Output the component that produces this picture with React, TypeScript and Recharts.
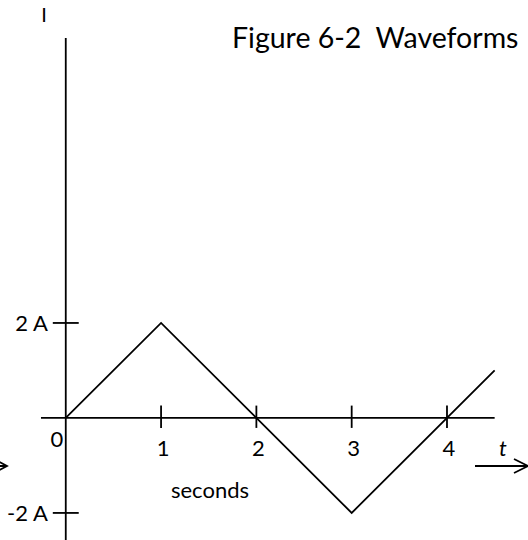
import React from 'react';
import { LineChart, Line, XAxis, YAxis, ReferenceLine } from 'recharts';

// waveform corners (seconds, amps)
const times = [0, 1, 3, 4.5];
const current = [0, 2, -2, 1];

const timeTicks = [1, 2, 3, 4];
const currentTicks = [2, -2];
const currentTickLabels = ['2 A', '-2 A'];

const data = times.map((t, i) => ({ t, i: current[i] }));

const font = 'Lato, "Open Sans", sans-serif';
const ink = '#000';

const TimeTickLabel = (props: any) => {
  const { viewBox, value } = props;
  return (
    <text x={viewBox.x + 2} y={viewBox.y + viewBox.height + 28} textAnchor="middle" fontFamily={font} fontSize={22} fill={ink}>
      {value}
    </text>
  );
};

const CurrentTickLabel = (props: any) => {
  const { viewBox, value } = props;
  return (
    <text x={viewBox.x - 5} y={viewBox.y + 8} textAnchor="end" fontFamily={font} fontSize={22} fill={ink}>
      {value}
    </text>
  );
};

const App: React.FC = () => {
  return (
    <div style={{ position: 'absolute', left: 0, top: 0, width: 528, height: 540, background: '#fff' }}>
      <LineChart width={528} height={540} data={data} margin={{ top: 0, right: 0, bottom: 0, left: 0 }}>
        <XAxis dataKey="t" type="number" domain={[-0.69, 4.85]} allowDataOverflow hide />
        <YAxis type="number" domain={[-2.57, 8.8]} allowDataOverflow hide />

        {/* axes */}
        <ReferenceLine segment={[{ x: -0.26, y: 0 }, { x: 4.5, y: 0 }]} stroke={ink} strokeWidth={1.8} />
        <ReferenceLine segment={[{ x: 0, y: 8.0 }, { x: 0, y: -2.57 }]} stroke={ink} strokeWidth={1.8} />

        {timeTicks.map((t) => (
          <ReferenceLine
            key={`tt${t}`}
            segment={[{ x: t, y: 0.26 }, { x: t, y: -0.21 }]}
            stroke={ink}
            strokeWidth={1.8}
            label={<TimeTickLabel value={String(t)} />}
          />
        ))}
        {currentTicks.map((v, k) => (
          <ReferenceLine
            key={`ct${v}`}
            segment={[{ x: -0.136, y: v }, { x: 0.136, y: v }]}
            stroke={ink}
            strokeWidth={1.8}
            label={<CurrentTickLabel value={currentTickLabels[k]} />}
          />
        ))}

        <Line type="linear" dataKey="i" stroke={ink} strokeWidth={1.8} dot={false} activeDot={false} isAnimationActive={false} />

        <text x={44} y={22} textAnchor="middle" fontFamily={font} fontSize={20} fill={ink}>I</text>
        <text x={232} y={48} fontFamily={font} fontSize={28.5} fill={ink}>Figure 6-2{'\u00a0\u00a0'}Waveforms</text>
        <text x={57} y={447} textAnchor="middle" fontFamily={font} fontSize={22} fill={ink}>0</text>
        <text x={210} y={498} textAnchor="middle" fontFamily={font} fontSize={22} fill={ink}>seconds</text>
        <text x={503} y={456} textAnchor="middle" fontFamily={font} fontSize={22} fontStyle="italic" fill={ink}>t</text>

        {/* direction arrows */}
        <path d="M475 466 L528 466 M514 459 L528 466 L514 473" stroke={ink} strokeWidth={1.8} fill="none" />
        <path d="M0 466 L7 466 M-6 459 L7 466 L-6 473" stroke={ink} strokeWidth={1.8} fill="none" />
      </LineChart>
    </div>
  );
};

export default App;
